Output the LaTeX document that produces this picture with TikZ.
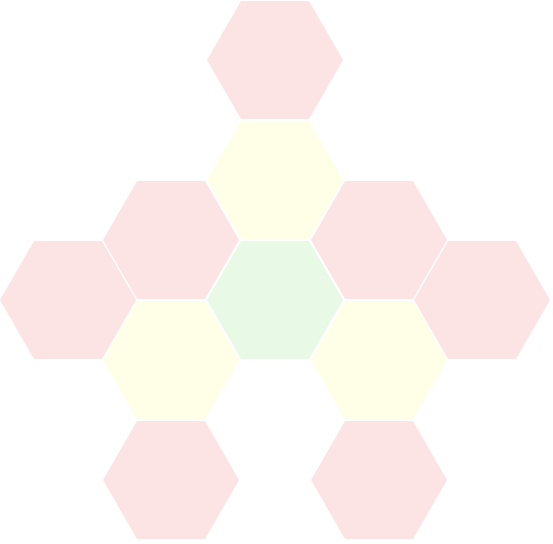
\documentclass[tikz,border=0pt]{standalone}
\usetikzlibrary{shapes.geometric}
\usepackage{xcolor}

\definecolor{hexrose}{RGB}{253,228,228}
\definecolor{hexlemon}{RGB}{255,254,230}
\definecolor{hexmint}{RGB}{232,249,230}

\begin{document}
\begin{tikzpicture}[
        x=0.02cm, y=-0.02cm,
    % Estilo comum das celulas hexagonais
        cell/.style={regular polygon, regular polygon sides=6, minimum size=2.72cm, inner sep=0pt, draw=none},
        rosecell/.style={cell, fill=hexrose},
        lemoncell/.style={cell, fill=hexlemon},
        mintcell/.style={cell, fill=hexmint}
    ]
        \useasboundingbox (0,0) rectangle (553,543);

        % --- COLUNA CENTRAL ---
        \node[rosecell] (top) at (275,60) {};
        \node[lemoncell] (upper) at (275,180) {};
        \node[mintcell] (core) at (275,300) {};

        % --- LADO ESQUERDO ---
        \node[rosecell] (upleft) at (171,240) {};
        \node[rosecell] (farleft) at (68,300) {};
        \node[lemoncell] (lowleft) at (171,360) {};
        \node[rosecell] (botleft) at (171,480) {};

        % --- LADO DIREITO ---
        \node[rosecell] (upright) at (379,240) {};
        \node[rosecell] (farright) at (482,300) {};
        \node[lemoncell] (lowright) at (379,360) {};
        \node[rosecell] (botright) at (379,480) {};
\end{tikzpicture}
\end{document}
